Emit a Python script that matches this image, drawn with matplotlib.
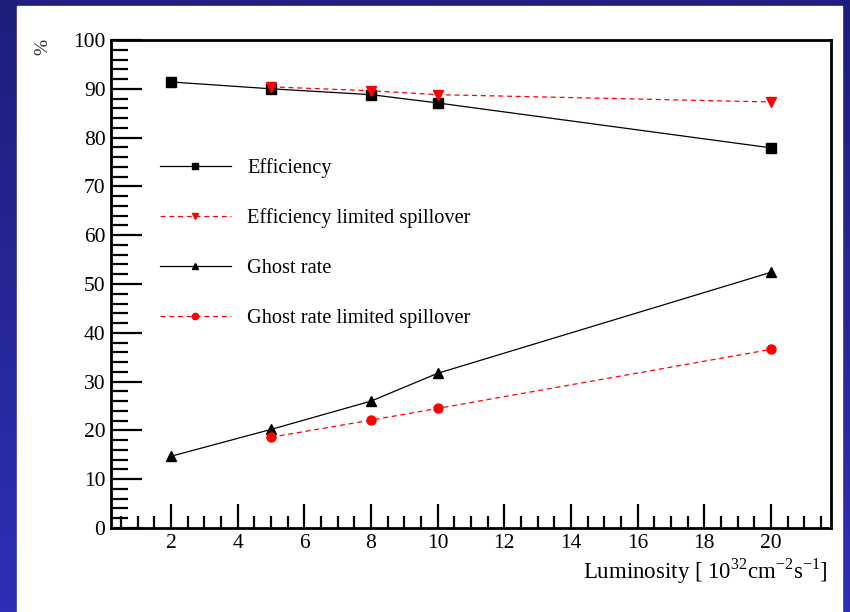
import numpy as np
import matplotlib
matplotlib.use("Agg")
import matplotlib.pyplot as plt
from matplotlib.patches import Rectangle

# luminosity points and measured rates (%)
lumi_eff = [2, 5, 8, 10, 20]
efficiency = [91.4, 90.0, 88.8, 87.1, 77.9]

lumi_eff_ls = [5, 8, 10, 20]
efficiency_ls = [90.4, 89.6, 88.8, 87.3]

lumi_ghost = [2, 5, 8, 10, 20]
ghost = [14.7, 20.2, 26.0, 31.7, 52.4]

lumi_ghost_ls = [5, 8, 10, 20]
ghost_ls = [18.6, 22.1, 24.5, 36.6]

labels = ["Efficiency", "Efficiency limited spillover",
          "Ghost rate", "Ghost rate limited spillover"]

plt.rcParams['font.family'] = ['Liberation Serif', 'DejaVu Serif']
plt.rcParams['mathtext.fontset'] = 'custom'
plt.rcParams['mathtext.rm'] = 'Liberation Serif'

fig = plt.figure(figsize=(8.5, 6.12), dpi=100)

# blue slide background with a white panel on top
bg = fig.add_axes([0, 0, 1, 1], zorder=-10)
grad = np.linspace(0, 1, 256).reshape(-1, 1)
cmap = matplotlib.colors.LinearSegmentedColormap.from_list(
    "slide", ["#1e1e7c", "#2f2fb6"])
bg.imshow(grad, aspect='auto', cmap=cmap, extent=[0, 1, 0, 1], origin='upper')
bg.add_patch(Rectangle((17 / 850, 0), (842 - 17) / 850, (612 - 6) / 612,
                       transform=bg.transAxes, color='white'))
bg.set_xlim(0, 1)
bg.set_ylim(0, 1)
bg.axis('off')

ax = fig.add_axes([111 / 850, 1 - 528 / 612, (831 - 111) / 850, (528 - 40) / 612])
ax.patch.set_alpha(0)

ax.plot(lumi_eff, efficiency, color='black', lw=0.9, marker='s', ms=6.5,
        label=labels[0])
ax.plot(lumi_eff_ls, efficiency_ls, color='red', lw=0.9, ls=(0, (4, 3)),
        marker='v', ms=7, label=labels[1])
ax.plot(lumi_ghost, ghost, color='black', lw=0.9, marker='^', ms=6.5,
        label=labels[2])
ax.plot(lumi_ghost_ls, ghost_ls, color='red', lw=0.9, ls=(0, (4, 3)),
        marker='o', ms=6.5, label=labels[3])

ax.set_xlim(0.2, 21.8)
ax.set_ylim(0, 100)
ax.set_xticks(np.arange(2, 21, 2))
ax.set_xticks(np.arange(0.5, 21.8, 0.5), minor=True)
ax.set_yticks(np.arange(0, 101, 10))
ax.set_yticks(np.arange(0, 101, 2), minor=True)

for s in ax.spines.values():
    s.set_linewidth(2)
ax.tick_params(which='both', direction='in', top=False, right=False,
               width=1.6, labelsize=15.5, pad=4)
ax.tick_params(axis='y', which='major', length=22)
ax.tick_params(axis='y', which='minor', length=12)
ax.tick_params(axis='x', which='major', length=17)
ax.tick_params(axis='x', which='minor', length=9)

ax.set_xlabel(r"Luminosity [ 10$^{32}$cm$^{\mathrm{-2}}$s$^{\mathrm{-1}}$]",
              fontsize=16.5, ha='right', x=0.995, labelpad=3)
fig.text(43 / 850, 1 - 47 / 612, "%", rotation=90, fontsize=14,
         ha='center', va='center', color='#333333')

ax.legend(loc='upper left', bbox_to_anchor=(0.057, 0.775), frameon=False,
          fontsize=14.7, handlelength=3.45, labelspacing=1.5, markerscale=0.7,
          handletextpad=0.8, borderaxespad=0)

fig.savefig("out.png", dpi=100)
